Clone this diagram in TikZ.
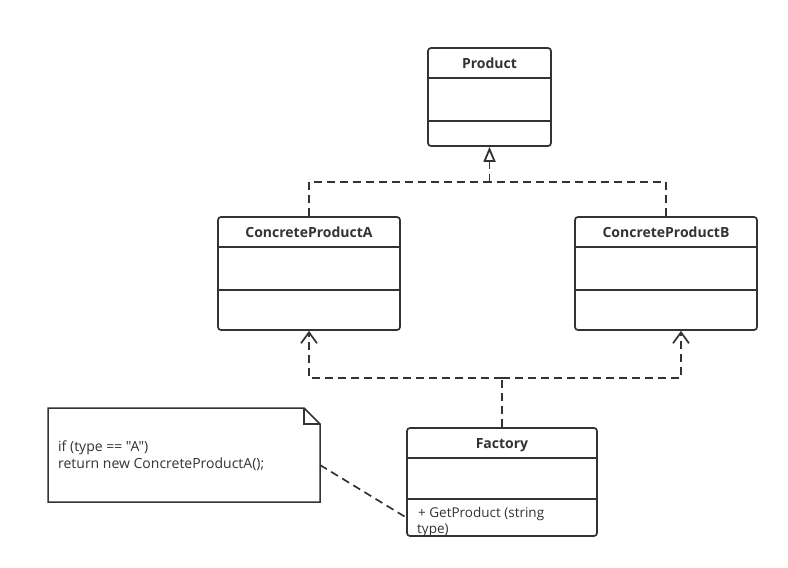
\documentclass[tikz,border=0pt]{standalone}
\usepackage{fontspec}
\setmainfont{Open Sans}
\newfontfamily\plainfont{Open Sans}
\usetikzlibrary{arrows.meta}
\definecolor{ln}{HTML}{333333}
\begin{document}
\begin{tikzpicture}[x=1pt,y=-1pt,
  box/.style={draw=ln, line width=1.7pt, rounded corners=3pt, inner sep=0pt, fill=white},
  divider/.style={draw=ln, line width=1.7pt},
  title/.style={font=\bfseries\fontsize{14}{16}\selectfont, text=ln, anchor=base, inner sep=0pt},
  body/.style={font=\plainfont\fontsize{13.5}{16}\selectfont, text=ln, anchor=base west, inner sep=0pt},
  note/.style={font=\plainfont\fontsize{14}{16}\selectfont, text=ln, anchor=base west, inner sep=0pt},
  dep/.style={draw=ln, line width=1.7pt, dash pattern=on 8pt off 5pt},
  realize/.style={dep, -{Triangle[open, length=15pt, width=12pt, line width=1.8pt]}},
  uses/.style={dep, -{Straight Barb[length=11pt, width=16pt, line width=1.7pt]}}]
\useasboundingbox (0,0) rectangle (788,568);
% Product
\node[box, minimum width=123pt, minimum height=98pt] (P) at (489.5,97) {};
\draw[divider] (P.west |- 0,78) -- (P.east |- 0,78);
\draw[divider] (P.west |- 0,121) -- (P.east |- 0,121);
\node[title] (Pt) at (489.5,68) {Product};
% ConcreteProductA
\node[box, minimum width=182pt, minimum height=113pt] (A) at (309,273.5) {};
\draw[divider] (A.west |- 0,247) -- (A.east |- 0,247);
\draw[divider] (A.west |- 0,290) -- (A.east |- 0,290);
\node[title] (At) at (309,237) {ConcreteProductA};
% ConcreteProductB
\node[box, minimum width=182pt, minimum height=113pt] (B) at (666,273.5) {};
\draw[divider] (B.west |- 0,247) -- (B.east |- 0,247);
\draw[divider] (B.west |- 0,290) -- (B.east |- 0,290);
\node[title] (Bt) at (666,237) {ConcreteProductB};
% Factory
\node[box, minimum width=190pt, minimum height=108pt] (F) at (502,482) {};
\draw[divider] (F.west |- 0,458) -- (F.east |- 0,458);
\draw[divider] (F.west |- 0,499) -- (F.east |- 0,499);
\node[title] (Ft) at (502,448) {Factory};
\node[body] (Fm1) at (418,517.5) {+ GetProduct (string};
\node[body] (Fm2) at (417,533) {type)};
% Note
\draw[ln, line width=1.5pt, fill=white] (48,408) -- (304,408) -- (320,424) -- (320,502) -- (48,502) -- cycle;
\draw[ln, line width=1.5pt] (304,408) -- (304,424) -- (320,424);
\node[note] (N1) at (58,451) {if (type == "A")};
\node[note] (N2) at (58,468) {return new ConcreteProductA();};
% connectors
\coordinate (j1) at (489.5,182);
\coordinate (j2) at (502,378);
\coordinate (nA) at (320,465);
\coordinate (nF) at (407,518);
\draw[dep] (A.north) |- (j1);
\draw[dep] (B.north) |- (j1);
\draw[realize] (j1) -- (P.south);
\draw[dep] (F.north) -- (j2);
\draw[uses] (j2) -| (A.south);
\draw[uses] (j2) -| ([xshift=15pt]B.south);
\draw[dep] (nA) -- (nF);
\end{tikzpicture}
\end{document}
